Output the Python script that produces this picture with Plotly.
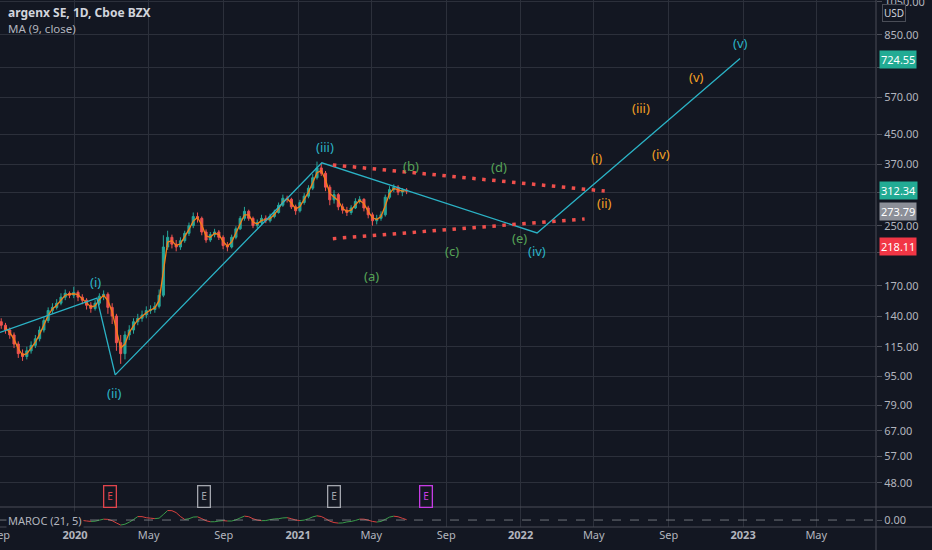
import numpy as np
import pandas as pd
import plotly.graph_objects as go

# ---------------- data ----------------
week_start = "2019-09-02"
close = [132,128,124,117,110,108,112,116,121,128,136,145,148,152,158,162,160,163,
         158,155,150,147,152,159,161,148,140,118,110,124,128,135,138,141,145,146,149,160,
         218,232,222,218,227,238,250,265,262,240,228,236,240,232,220,218,232,245,262,274,
         262,250,255,262,258,265,272,285,298,296,282,275,
         290,302,318,340,362,350,320,295,305,282,276,272,280,292,296,280,268,258,262,268,
         300,315,320,310,314,312.34]
high = [138,134,130,126,119,113,115,119,124,131,139,148,152,156,162,166,164,169,
        165,161,157,153,155,162,165,163,152,142,124,127,132,138,142,145,149,150,153,166,
        235,242,236,228,232,242,255,272,272,265,244,240,245,243,235,225,236,249,266,282,
        277,265,260,268,267,270,277,290,305,303,299,286,
        295,308,324,348,377,372,355,325,314,308,288,282,285,298,302,298,284,272,268,274,
        305,322,326,324,318,318]
low = [129,125,121,114,107,105,106,110,114,119,126,134,142,146,150,155,157,157,
       154,151,146,143,145,150,155,142,133,112,103,106,120,125,132,135,138,142,143,147,
       158,214,216,212,214,224,234,246,255,235,224,225,232,228,215,212,216,229,243,258,
       258,246,246,252,254,255,262,270,282,290,278,268,
       272,286,298,314,336,344,312,285,288,276,270,266,268,278,288,274,262,250,252,258,
       265,296,310,304,302,306]
first_open = 135

# Elliott wave path (cyan)
wave_dates = ["2019-08-31", "2020-02-06", "2020-03-07", "2021-02-09", "2022-01-28", "2022-12-27"]
wave_prices = [126, 157, 96, 374, 238.5, 730]

# triangle trend lines (red dotted)
upper_dates = ["2021-02-27", "2022-05-19"]
upper_prices = [369, 312]
lower_dates = ["2021-02-27", "2022-04-16"]
lower_prices = [230, 261]

# wave labels
cyan_labels = ["(i)", "(ii)", "(iii)", "(iv)", "(v)"]
cyan_dates = ["2020-02-04", "2020-03-06", "2021-02-14", "2022-01-28", "2022-12-27"]
cyan_prices = [174, 85.5, 414, 212.5, 806]
green_labels = ["(a)", "(b)", "(c)", "(d)", "(e)"]
green_dates = ["2021-05-02", "2021-07-05", "2021-09-10", "2021-11-26", "2021-12-31"]
green_prices = [181, 366.6, 212.5, 364, 231]
orange_labels = ["(i)", "(ii)", "(iii)", "(iv)", "(v)"]
orange_dates = ["2022-05-06", "2022-05-18", "2022-07-17", "2022-08-19", "2022-10-17"]
orange_prices = [386, 289, 532, 396, 649]

# long position tool
pos_dates = ["2022-09-14", "2023-04-19"]
target_price = 724.55
entry_price = 273.79
stop_price = 218.11
last_price = 312.34

# earnings events
earn_dates = ["2020-02-27", "2020-07-30", "2021-03-01", "2021-07-29"]
earn_colors = ["#e0444c", "#a3a6ae", "#a3a6ae", "#c63ce4"]

price_ticks = [48, 57, 67, 79, 95, 115, 140, 170, 210, 250, 310, 370, 450, 570, 690, 850, 1050]
hidden_ticks = [210, 310, 690]   # covered by the coloured price boxes
time_ticks = ["2019-09-01", "2020-01-01", "2020-05-01", "2020-09-01", "2021-01-01", "2021-05-01",
              "2021-09-01", "2022-01-01", "2022-05-01", "2022-09-01", "2023-01-01", "2023-05-01"]
time_labels = ["Sep", "<b>2020</b>", "May", "Sep", "<b>2021</b>", "May", "Sep", "<b>2022</b>",
               "May", "Sep", "<b>2023</b>", "May"]

# ---------------- derived ----------------
dates = pd.date_range(week_start, periods=len(close), freq="7D")
opens = [first_open] + close[:-1]
s = pd.Series(close, index=dates)
ma = s.rolling(2).mean()
roc = (s / s.shift(4) - 1) * 100
maroc = roc.rolling(2).mean().dropna()

BG = "#131722"
GRID = "#2c303b"
TXT = "#b2b5be"
LINE = "#4a4d57"
CYAN = "#2bb3c6"
GREEN = "#56a356"
ORANGE = "#f2a024"
FONT = "Noto Sans"

fig = go.Figure()

fig.add_trace(go.Candlestick(
    x=dates, open=opens, high=high, low=low, close=close,
    increasing=dict(line=dict(color="#26a69a", width=1), fillcolor="#26a69a"),
    decreasing=dict(line=dict(color="#ef5350", width=1), fillcolor="#ef5350"),
    xaxis="x", yaxis="y", hoverinfo="skip"))

fig.add_trace(go.Scatter(x=ma.index, y=ma.values, mode="lines",
                         line=dict(color="#f57f17", width=1.3), xaxis="x", yaxis="y"))

fig.add_trace(go.Scatter(x=pd.to_datetime(wave_dates), y=wave_prices, mode="lines",
                         line=dict(color=CYAN, width=1.3), xaxis="x", yaxis="y"))

for d, p in ((upper_dates, upper_prices), (lower_dates, lower_prices)):
    fig.add_trace(go.Scatter(x=pd.to_datetime(d), y=p, mode="lines",
                             line=dict(color="#ef4f4c", width=3.5, dash="3.5px,6.5px"),
                             xaxis="x", yaxis="y"))

# MAROC coloured by direction
gx, gy, rx, ry = [], [], [], []
vals = maroc.values
idx = maroc.index
for i in range(1, len(vals)):
    if vals[i] >= vals[i - 1]:
        gx += [idx[i - 1], idx[i], None]; gy += [vals[i - 1], vals[i], None]
    else:
        rx += [idx[i - 1], idx[i], None]; ry += [vals[i - 1], vals[i], None]
fig.add_trace(go.Scatter(x=gx, y=gy, mode="lines", line=dict(color="#3a9b4a", width=1),
                         xaxis="x", yaxis="y2"))
fig.add_trace(go.Scatter(x=rx, y=ry, mode="lines", line=dict(color="#d8413f", width=1),
                         xaxis="x", yaxis="y2"))

shapes = []
# position tool boxes
shapes.append(dict(type="rect", xref="x", yref="y", x0=pos_dates[0], x1=pos_dates[1],
                   y0=np.log10(entry_price), y1=np.log10(target_price),
                   fillcolor="rgba(38,166,154,0.22)", line=dict(width=0), layer="below"))
shapes.append(dict(type="rect", xref="x", yref="y", x0=pos_dates[0], x1=pos_dates[1],
                   y0=np.log10(stop_price), y1=np.log10(entry_price),
                   fillcolor="rgba(239,83,80,0.22)", line=dict(width=0), layer="below"))
shapes.append(dict(type="line", xref="x", yref="y", x0=pos_dates[0], x1=pos_dates[1],
                   y0=np.log10(entry_price), y1=np.log10(entry_price),
                   line=dict(color="#8c8f98", width=1)))
# last price dotted line
shapes.append(dict(type="line", xref="paper", yref="y", x0=0, x1=1,
                   y0=np.log10(last_price), y1=np.log10(last_price),
                   line=dict(color="rgba(170,173,180,0.75)", width=1, dash="dot")))
# maroc zero line
shapes.append(dict(type="line", xref="paper", yref="y2", x0=0, x1=1, y0=0, y1=0,
                   line=dict(color="rgba(150,153,160,0.7)", width=1, dash="dash")))
# pane borders
dom = 1 - 507 / 527
for yy in (dom, 0):
    shapes.append(dict(type="line", xref="paper", yref="paper", x0=0, x1=1.07, y0=yy, y1=yy,
                       line=dict(color=LINE, width=1)))
shapes.append(dict(type="line", xref="paper", yref="paper", x0=1, x1=1, y0=-0.05, y1=1,
                   line=dict(color=LINE, width=1)))

ann = []
def label(txt, d, p, color):
    ann.append(dict(x=d, y=np.log10(p), xref="x", yref="y", text=txt, showarrow=False,
                    yanchor="middle", font=dict(family=FONT, size=13, color=color)))
for t, d, p in zip(cyan_labels, cyan_dates, cyan_prices):
    label(t, d, p, CYAN)
for t, d, p in zip(green_labels, green_dates, green_prices):
    label(t, d, p, GREEN)
for t, d, p in zip(orange_labels, orange_dates, orange_prices):
    label(t, d, p, ORANGE)

# axis price boxes
for val, col in ((target_price, "#22ab94"), (last_price, "#22ab94"),
                 (entry_price, "#8c8f98"), (stop_price, "#f23645")):
    ann.append(dict(xref="paper", x=1, xanchor="left", xshift=3, yref="y", y=np.log10(val),
                    yanchor="middle", text=f"{val:.2f}", showarrow=False, bgcolor=col, borderpad=1,
                    font=dict(family=FONT, size=11, color="#ffffff")))
ann.append(dict(xref="paper", x=1, xshift=30, yref="paper", y=1 - 13 / 527, yanchor="middle",
                text="USD", showarrow=False, bgcolor=BG, bordercolor=LINE, borderwidth=1,
                borderpad=1, font=dict(family=FONT, size=10, color="#d1d4dc")))

# legend texts
ann.append(dict(xref="paper", x=0, xanchor="left", xshift=6, yref="paper", y=1 - 12 / 527,
                yanchor="middle", text="<b>argenx SE, 1D, Cboe BZX</b>", showarrow=False,
                font=dict(family=FONT, size=12, color="#d1d4dc")))
ann.append(dict(xref="paper", x=0, xanchor="left", xshift=6, yref="paper", y=1 - 28.5 / 527,
                yanchor="middle", text="MA (9, close)", showarrow=False,
                font=dict(family=FONT, size=11.5, color=TXT)))
ann.append(dict(xref="paper", x=0, xanchor="left", xshift=6, yref="paper", y=1 - 520 / 527,
                yanchor="middle", text="MAROC (21, 5)", showarrow=False, bgcolor=BG,
                font=dict(family=FONT, size=11, color=TXT)))
# earnings markers
for d, c in zip(earn_dates, earn_colors):
    ann.append(dict(xref="x", x=d, yref="paper", y=1 - 496 / 527, yanchor="middle", text="E",
                    showarrow=False, bgcolor=BG, bordercolor=c, borderwidth=1.3, borderpad=3,
                    font=dict(family=FONT, size=10, color=c)))

fig.update_layout(
    width=932, height=550,
    margin=dict(l=0, r=56, t=0, b=23, autoexpand=False),
    paper_bgcolor=BG, plot_bgcolor=BG,
    showlegend=False, hovermode=False,
    shapes=shapes, annotations=ann,
    xaxis=dict(type="date", range=["2019-08-31", "2023-08-07"], anchor="y2", automargin=False,
               tickmode="array", tickvals=time_ticks, ticktext=time_labels,
               showgrid=True, gridcolor=GRID, gridwidth=1, zeroline=False, showline=False,
               ticks="", tickfont=dict(family=FONT, size=11, color=TXT),
               rangeslider=dict(visible=False), ticklabeloverflow="allow", fixedrange=True),
    yaxis=dict(type="log", domain=[dom, 1], range=[1.6142, 3.0265], side="right", automargin=False,
               tickmode="array", tickvals=price_ticks,
               ticktext=["" if v in hidden_ticks else f"{v:.2f}" for v in price_ticks],
               showgrid=True, gridcolor=GRID, zeroline=False, showline=False,
               ticks="outside", ticklen=5, tickcolor=LINE,
               tickfont=dict(family=FONT, size=11, color=TXT), ticklabeloverflow="allow",
               fixedrange=True),
    yaxis2=dict(domain=[0, dom], range=[-40, 75], side="right", anchor="x", automargin=False,
                tickmode="array", tickvals=[0], ticktext=["0.00"], showgrid=False,
                zeroline=False, showline=False, ticks="outside", ticklen=5, tickcolor=LINE,
                tickfont=dict(family=FONT, size=11, color=TXT), ticklabeloverflow="allow",
                fixedrange=True),
)

fig.write_html("out.html", config={"displayModeBar": False},
               post_script="document.body.style.margin='0';document.body.style.background='#131722';"
                           "document.body.style.overflow='hidden';")
